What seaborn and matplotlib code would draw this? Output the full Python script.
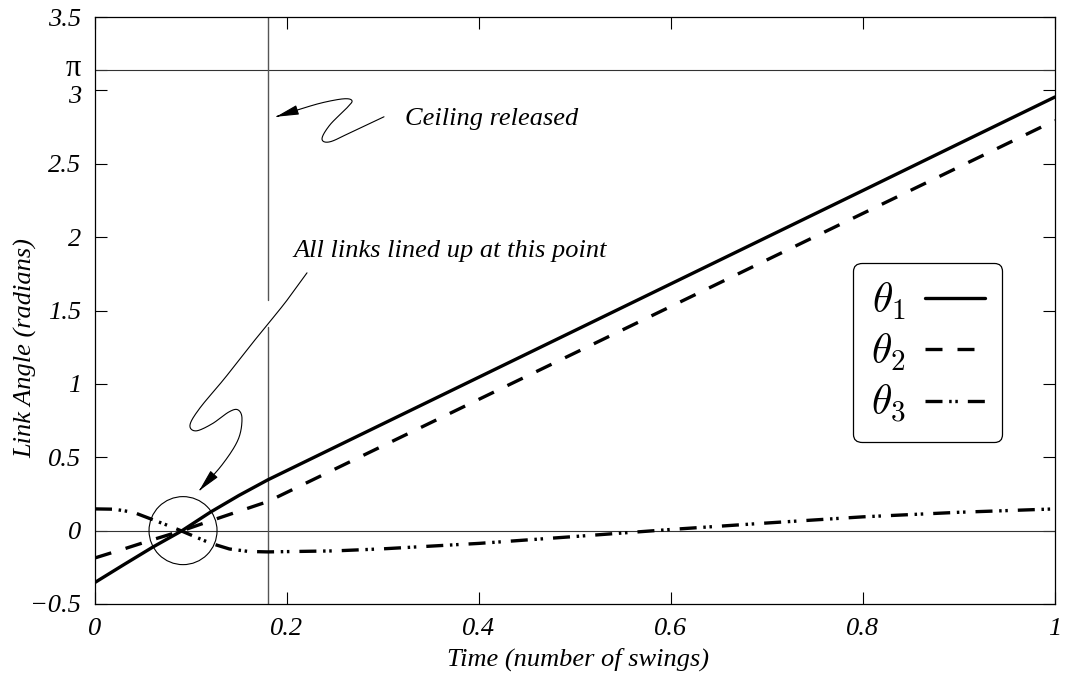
import numpy as np
import pandas as pd
import matplotlib
matplotlib.use("Agg")
import matplotlib.pyplot as plt
import matplotlib.transforms as mtransforms
import seaborn as sns
from matplotlib.patches import FancyArrowPatch, Ellipse
from matplotlib.path import Path
from matplotlib.lines import Line2D

# ---------------- data ----------------
theta1_t = [0, 0.03, 0.06, 0.09, 0.12, 0.15, 0.18, 0.3, 0.4, 0.5, 0.6, 0.7, 0.8, 0.9, 1.0]
theta1 = [-0.353, -0.232, -0.113, -0.003, 0.125, 0.24, 0.346, 0.728, 1.046, 1.364, 1.682, 2.0, 2.318, 2.637, 2.955]

theta2_t = [0, 0.03, 0.06, 0.09, 0.12, 0.15, 0.18, 0.3, 0.4, 0.5, 0.6, 0.7, 0.8, 0.9, 1.0]
theta2 = [-0.186, -0.125, -0.062, -0.002, 0.066, 0.132, 0.198, 0.578, 0.895, 1.211, 1.528, 1.845, 2.162, 2.478, 2.795]

theta3_t = [0, 0.02, 0.04, 0.06, 0.08, 0.09, 0.1, 0.12, 0.14, 0.16, 0.18, 0.25, 0.3, 0.4, 0.5, 0.6, 0.7, 0.8, 0.9, 1.0]
theta3 = [0.148, 0.146, 0.125, 0.075, 0.025, -0.002, -0.03, -0.085, -0.125, -0.142, -0.145, -0.138, -0.124, -0.087, -0.04, 0.008, 0.052, 0.094, 0.125, 0.148]

series_names = [r"$\theta_1$", r"$\theta_2$", r"$\theta_3$"]
release_time = 0.18
xticks = [0, 0.2, 0.4, 0.6, 0.8, 1.0]
xticklabels = ["0", "0.2", "0.4", "0.6", "0.8", "1"]
yticks = [-0.5, 0, 0.5, 1, 1.5, 2, 2.5, 3, np.pi, 3.5]
yticklabels = ["\u22120.5", "0", "0.5", "1", "1.5", "2", "2.5", "3", "\u03c0", "3.5"]

df = pd.concat([
    pd.DataFrame({"t": theta1_t, "angle": theta1, "series": series_names[0]}),
    pd.DataFrame({"t": theta2_t, "angle": theta2, "series": series_names[1]}),
    pd.DataFrame({"t": theta3_t, "angle": theta3, "series": series_names[2]}),
], ignore_index=True)

# ---------------- style ----------------
sns.set_style("ticks")
plt.rcParams["font.family"] = ["Liberation Serif", "DejaVu Serif"]
plt.rcParams["font.style"] = "italic"
plt.rcParams["mathtext.fontset"] = "cm"
plt.rcParams["text.color"] = "black"
plt.rcParams["axes.labelcolor"] = "black"
plt.rcParams["xtick.color"] = "black"
plt.rcParams["ytick.color"] = "black"

fig = plt.figure(figsize=(10.7, 6.84), dpi=100)
ax = fig.add_axes([95 / 1070, 80 / 684, 960 / 1070, 587 / 684])

dash_map = {
    series_names[0]: "",
    series_names[1]: (5.1, 4.5),
    series_names[2]: (5.1, 2.0, 0.75, 1.1, 0.75, 3.0),
}
sns.lineplot(data=df, x="t", y="angle", style="series", dashes=dash_map,
             color="black", linewidth=2.4, legend=False, ax=ax,
             estimator=None, sort=False)

ax.set_xlim(0, 1)
ax.set_ylim(-0.5, 3.5)

# reference lines
ax.axhline(0, color="#333333", lw=0.8, zorder=1)
ax.axhline(np.pi, color="#333333", lw=0.8, zorder=1)

def px2data(px, py):
    return (px - 95) / 960.0, (530.7 - py) / 146.7

gap_lo = px2data(0, 327)[1]
gap_hi = px2data(0, 300)[1]
ax.plot([release_time, release_time], [-0.5, gap_lo], color="#555555", lw=1.0, zorder=1)
ax.plot([release_time, release_time], [gap_hi, 3.5], color="#555555", lw=1.0, zorder=1)

# ticks
ax.set_xticks(xticks)
ax.set_xticklabels(xticklabels)
ax.set_yticks(yticks)
ax.set_yticklabels(yticklabels)
ax.tick_params(direction="in", length=8.6, width=0.8, top=True, right=True,
               labelsize=19, pad=10, colors="black")
up = mtransforms.ScaledTranslation(0, 3 / 72.0, fig.dpi_scale_trans)
down = mtransforms.ScaledTranslation(0, -3 / 72.0, fig.dpi_scale_trans)
for lab in ax.get_yticklabels():
    if lab.get_text() == "\u03c0":
        lab.set_fontstyle("normal")
        lab.set_fontsize(22)
        lab.set_transform(lab.get_transform() + up)
    elif lab.get_text() == "3":
        lab.set_transform(lab.get_transform() + down)
for s in ax.spines.values():
    s.set_linewidth(0.9)
    s.set_color("black")

ax.set_xlabel("Time (number of swings)", fontsize=19, color="black")
ax.set_ylabel("Link Angle (radians)", fontsize=19, color="black")
ax.xaxis.set_label_coords(0.503, -0.074)
ax.yaxis.set_label_coords(-0.060, 0.436)

# circle around alignment point
circ = Ellipse((0.0917, 0.0), width=2 * 34 / 960, height=2 * 34 / 146.7,
               fill=False, lw=0.8, color="black", zorder=3)
ax.add_patch(circ)

# wiggly annotation arrows
def catmull(pts, n=14):
    pts = np.array(pts, float)
    P = np.vstack([pts[0], pts, pts[-1]])
    out = []
    for i in range(1, len(P) - 2):
        p0, p1, p2, p3 = P[i - 1], P[i], P[i + 1], P[i + 2]
        for t in np.linspace(0, 1, n, endpoint=False):
            out.append(0.5 * ((2 * p1) + (-p0 + p2) * t + (2 * p0 - 5 * p1 + 4 * p2 - p3) * t ** 2
                              + (-p0 + 3 * p1 - 3 * p2 + p3) * t ** 3))
    out.append(pts[-1])
    return np.array(out)

def wiggle_arrow(pix_pts):
    curve = catmull(pix_pts)
    verts = np.array([px2data(x, y) for x, y in curve])
    arr = FancyArrowPatch(path=Path(verts), arrowstyle="-|>,head_length=1.4,head_width=0.3",
                          mutation_scale=10, lw=0.8, color="black", zorder=4)
    ax.add_patch(arr)

ceiling_pts = [(384, 117), (352, 132), (330, 142), (322, 139), (330, 125), (347, 108),
               (352, 101), (344, 99), (322, 103), (298, 110), (276, 117)]
align_pts = [(307, 273), (285, 303), (255, 340), (225, 378), (200, 408), (190, 425),
             (196, 431), (212, 424), (229, 412), (238, 410), (242, 419), (238, 440),
             (222, 465), (199, 491)]
wiggle_arrow(ceiling_pts)
wiggle_arrow(align_pts)

cx, cy = px2data(405, 125)
ax.text(cx, cy, "Ceiling released", fontsize=19, va="baseline", ha="left", color="black")
ax2x, ax2y = px2data(293, 257)
ax.text(ax2x, ax2y, "All links lined up at this point", fontsize=19, va="baseline",
        ha="left", color="black")

# legend
handles = []
for name in series_names:
    d = dash_map[name]
    if d == "":
        handles.append(Line2D([], [], color="black", lw=2.4, linestyle="-"))
    else:
        handles.append(Line2D([], [], color="black", lw=2.4, linestyle=(0, d)))
leg = ax.legend(handles, series_names, loc="upper left", bbox_to_anchor=(0.79, 0.581),
                fontsize=30, markerfirst=False, handlelength=1.45, handletextpad=0.45,
                labelspacing=0.24, borderpad=0.42, borderaxespad=0, fancybox=True,
                framealpha=1, edgecolor="black")
leg.get_frame().set_linewidth(0.9)

fig.savefig("out.png", dpi=100)
